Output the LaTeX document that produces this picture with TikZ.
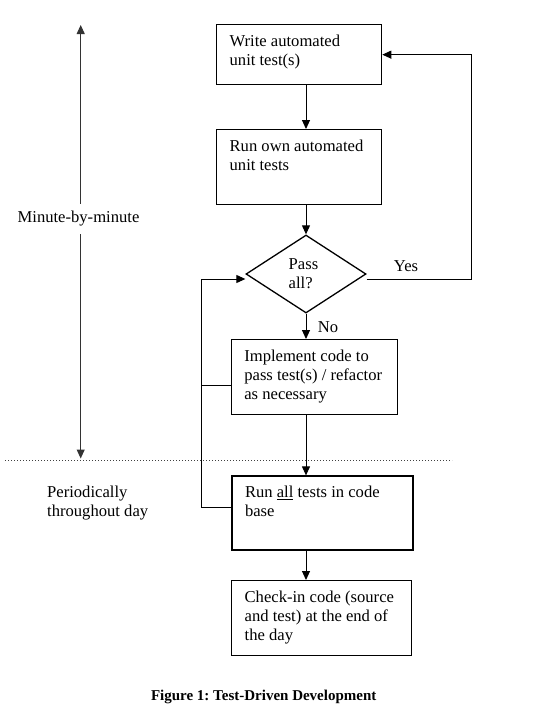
\documentclass[tikz,border=0pt]{standalone}
\usepackage{fontspec}
\setmainfont{Liberation Serif}
\usetikzlibrary{shapes.geometric,arrows.meta}
\frenchspacing
\newcommand\bxt[3]{\parbox[t][#2][t]{#1}{\strut #3}}
\tikzset{
  body/.style={font=\fontsize{16.6}{19.3}\selectfont},
  stepbox/.style={draw, line width=1.3pt, anchor=north west, inner xsep=13pt, inner ysep=8pt, body},
  conn/.style={line width=1pt},
  arr/.style={conn, -{Triangle[length=9pt,width=8pt]}},
  lbl/.style={body, inner sep=0pt, align=left}
}
\begin{document}
\begin{tikzpicture}[x=1pt,y=-1pt]
\useasboundingbox (0,0) rectangle (534,718);

% boxes
\node[stepbox] (b1) at (216,24) {\bxt{139pt}{44pt}{Write automated\\unit test(s)}};
\node[stepbox] (b2) at (216,129) {\bxt{139pt}{59pt}{Run own automated\\unit tests}};
\node[draw, line width=1.3pt, diamond, minimum width=120pt, minimum height=78pt, inner sep=0pt, body, align=left] (dia) at (306,274) {\hspace*{-5pt}Pass\\\hspace*{-5pt}all?};
\node[stepbox] (b3) at (230.7,339) {\bxt{140pt}{59pt}{Implement code to\\pass test(s) / refactor\\as necessary}};
\node[stepbox] (b4) at (231.4,475.4) {\bxt{155pt}{58pt}{Run \underline{all} tests in code\\base}};
\node[stepbox] (b5) at (231,580) {\bxt{154pt}{59pt}{Check-in code (source\\and test) at the end of\\the day}};

% main spine arrows
\draw[arr] (b1.south -| dia) -- (b2.north -| dia);
\draw[arr] (b2.south -| dia) -- (dia.north);
\draw[arr] (dia.south) -- (b3.north -| dia);
\draw[arr] (b3.south -| dia) -- (b4.north -| dia);
\draw[arr] (b4.south -| dia) -- (b5.north -| dia);

% yes loop
\coordinate (yesR) at (471,279);
\draw[arr] ([yshift=-5pt]dia.east) -- (yesR) |- (b1.east);
\node[lbl] (yes) at (406,266) {Yes};
\node[lbl] (no) at (328,326.7) {No};

% left feedback loop
\coordinate (lx) at (201.5,0);
\draw[conn] ([yshift=5.6pt]b4.west) -- ([yshift=5.6pt]b4.west -| lx) |- ([yshift=-5pt]b3.west -| lx);
\draw[conn] ([yshift=-8pt]b3.west) -- ([yshift=-8pt]b3.west -| lx);
\draw[arr] ([yshift=-5pt]b3.west -| lx) |- ([yshift=-5pt]dia.west);

% dotted separator
\coordinate (dl) at (5,460.7);
\coordinate (dr) at (452,460.7);
\draw[line width=1pt, black!75, dash pattern=on 1pt off 2pt] (dl) -- (dr);

% time-scale arrow
\node[lbl, minimum height=30pt] (mm) at (78.5,219) {Minute-by-minute};
\coordinate (mtop) at (80.7,25);
\coordinate (mbot) at (80.7,458.5);
\draw[arr, black!80] (mm.north -| mtop) -- (mtop);
\draw[arr, black!80] (mm.south -| mtop) -- (mbot);

\node[lbl, anchor=west] (per) at (47,503.3) {Periodically\\throughout day};

% caption
\node[inner sep=0pt, font=\fontsize{15}{18}\selectfont\bfseries] (cap) at (263.7,696.7) {Figure 1: Test-Driven Development};
\end{tikzpicture}
\end{document}
